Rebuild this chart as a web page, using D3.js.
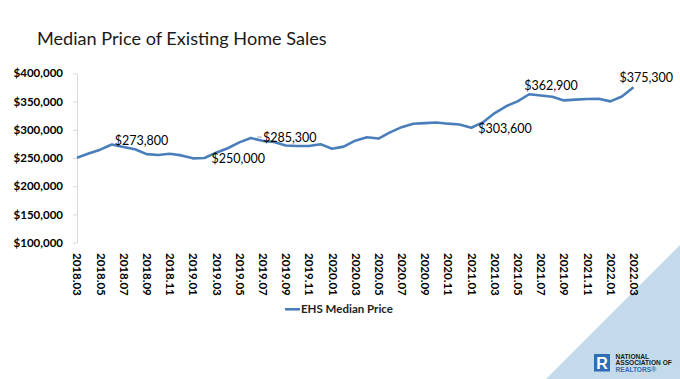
<!DOCTYPE html>
<html>
<head>
<meta charset="utf-8">
<script src="https://cdn.jsdelivr.net/npm/d3@7"></script>
<style>
  html, body { margin: 0; padding: 0; background: #fff; }
  svg { display: block; font-family: Lato, "Open Sans", sans-serif; }
</style>
</head>
<body>
<svg id="chart" width="680" height="379"></svg>
<script>
// ---------- data ----------
const months = [
  "2018.03","2018.04","2018.05","2018.06","2018.07","2018.08","2018.09","2018.10","2018.11","2018.12",
  "2019.01","2019.02","2019.03","2019.04","2019.05","2019.06","2019.07","2019.08","2019.09","2019.10","2019.11","2019.12",
  "2020.01","2020.02","2020.03","2020.04","2020.05","2020.06","2020.07","2020.08","2020.09","2020.10","2020.11","2020.12",
  "2021.01","2021.02","2021.03","2021.04","2021.05","2021.06","2021.07","2021.08","2021.09","2021.10","2021.11","2021.12",
  "2022.01","2022.02","2022.03"
];
const medianPrice = [
  250400, 257900, 264800, 273800, 269600, 265500, 256800, 255300, 257500, 254600,
  249400, 250000, 259400, 267300, 277700, 285300, 280400, 278200, 272100, 271300, 271300, 274500,
  266300, 270100, 280700, 286800, 284400, 295300, 304600, 310600, 311800, 313000, 310800, 309300,
  303600, 313000, 329100, 341600, 350300, 362900, 360600, 358600, 352000, 353400, 354600, 354800,
  350300, 358800, 375300
];
const tickLabels = [
  "2018.03","2018.05","2018.07","2018.09","2018.11","2019.01","2019.03","2019.05","2019.07","2019.09","2019.11",
  "2020.01","2020.03","2020.05","2020.07","2020.09","2020.11","2021.01","2021.03","2021.05","2021.07","2021.09","2021.11",
  "2022.01","2022.03"
];
const yTicks = [100000, 150000, 200000, 250000, 300000, 350000, 400000];
const annotatedMonths = ["2018.06","2019.02","2019.06","2021.01","2021.06","2022.03"];
const seriesName = "EHS Median Price";
const titleText = "Median Price of Existing Home Sales";

// ---------- style / layout ----------
const lineColor = "#4A7EBB";
// label offsets (dx, dy of label left/baseline relative to point)
const labelOffsets = {
  "2018.06": [3, 0],
  "2019.02": [7, 4.5],
  "2019.06": [12, 3.5],
  "2021.01": [7, 5],
  "2021.06": [-5, -4.5],
  "2022.03": [-14, -5.5]
};

const svg = d3.select("#chart");

const x = d3.scalePoint().domain(months).range([77, 633.5]);
const y = d3.scaleLinear().domain([100000, 400000]).range([242.7, 73.3]);

// background triangle
svg.append("path")
  .attr("d", "M680,245 L680,379 L546,379 Z")
  .attr("fill", "#c3daea");

// title
function fitText(sel, targetWidth) {
  const node = sel.node();
  const w = node.getComputedTextLength();
  const fs = parseFloat(sel.attr("font-size"));
  sel.attr("font-size", (fs * targetWidth / w).toFixed(2));
}
const title = svg.append("text")
  .attr("x", 37).attr("y", 44.5)
  .attr("font-size", 21)
  .attr("fill", "#1a1a1a")
  .text(titleText);
fitText(title, 290);

// y axis
const yAxis = d3.axisLeft(y)
  .tickValues(yTicks)
  .tickFormat(d3.format("$,"))
  .tickSizeInner(4).tickSizeOuter(0)
  .tickPadding(10);
const gy = svg.append("g").attr("transform", "translate(77,0)").call(yAxis);
gy.select(".domain").attr("stroke", "#d9d9d9").attr("stroke-width", 1);
gy.selectAll(".tick line").attr("stroke", "#d9d9d9");
gy.selectAll(".tick text")
  .attr("font-family", "Lato, sans-serif")
  .attr("font-size", 11.5)
  .attr("font-weight", "bold")
  .attr("fill", "#000");

// x axis (labels only)
const xAxis = d3.axisBottom(x).tickValues(tickLabels).tickSize(0);
const gx = svg.append("g").attr("transform", "translate(0,243)").call(xAxis);
gx.select(".domain").remove();
gx.selectAll(".tick text")
  .attr("font-family", "Lato, sans-serif")
  .attr("font-size", 11.5)
  .attr("font-weight", "bold")
  .attr("fill", "#000")
  .attr("text-anchor", "start")
  .attr("transform", "rotate(90)")
  .attr("x", 10)
  .attr("y", 0)
  .attr("dy", "0.35em");

// line
const line = d3.line()
  .x((d, i) => x(months[i]))
  .y(d => y(d));
svg.append("path")
  .datum(medianPrice)
  .attr("d", line)
  .attr("fill", "none")
  .attr("stroke", lineColor)
  .attr("stroke-width", 2.6)
  .attr("stroke-linejoin", "round");

// data labels
const fmt = d3.format("$,");
annotatedMonths.forEach(m => {
  const i = months.indexOf(m);
  const px = x(m), py = y(medianPrice[i]);
  const off = labelOffsets[m];
  svg.append("text")
    .attr("x", px + off[0])
    .attr("y", py + off[1])
    .attr("font-size", 12.5)
    .attr("fill", "#000")
    .text(fmt(medianPrice[i]));
});
// leader line for 2019.06 label
{
  const m = "2019.06";
  const px = x(m), py = y(medianPrice[months.indexOf(m)]);
  svg.append("line")
    .attr("x1", px + 6).attr("x2", px + 11)
    .attr("y1", py - 1).attr("y2", py - 1)
    .attr("stroke", "#a6a6a6").attr("stroke-width", 1);
}

// legend
svg.append("line")
  .attr("x1", 285).attr("x2", 300)
  .attr("y1", 309.3).attr("y2", 309.3)
  .attr("stroke", lineColor).attr("stroke-width", 2.6);
const leg = svg.append("text")
  .attr("x", 301).attr("y", 309.3)
  .attr("dy", "0.35em")
  .attr("font-size", 12)
  .attr("font-weight", "bold")
  .attr("fill", "#222")
  .text(seriesName);
fitText(leg, 92);

// logo
const logo = svg.append("g");
logo.append("rect").attr("x", 594).attr("y", 354).attr("width", 16).attr("height", 17.5).attr("fill", "#2f6db5");
logo.append("text").attr("x", 602).attr("y", 369).attr("text-anchor", "middle")
  .attr("font-family", "Liberation Sans, sans-serif").attr("font-weight", "bold")
  .attr("font-size", 16).attr("fill", "#fff").text("R");
const logoLines = [["NATIONAL", "#1a1a1a"], ["ASSOCIATION OF", "#1a1a1a"], ["REALTORS®", "#2f6db5"]];
logoLines.forEach((l, k) => {
  logo.append("text").attr("x", 615.5).attr("y", 359 + k * 6.3)
    .attr("font-family", "Liberation Sans, sans-serif").attr("font-weight", "bold")
    .attr("font-size", 6.6).attr("fill", l[1]).text(l[0]);
});
</script>
</body>
</html>
